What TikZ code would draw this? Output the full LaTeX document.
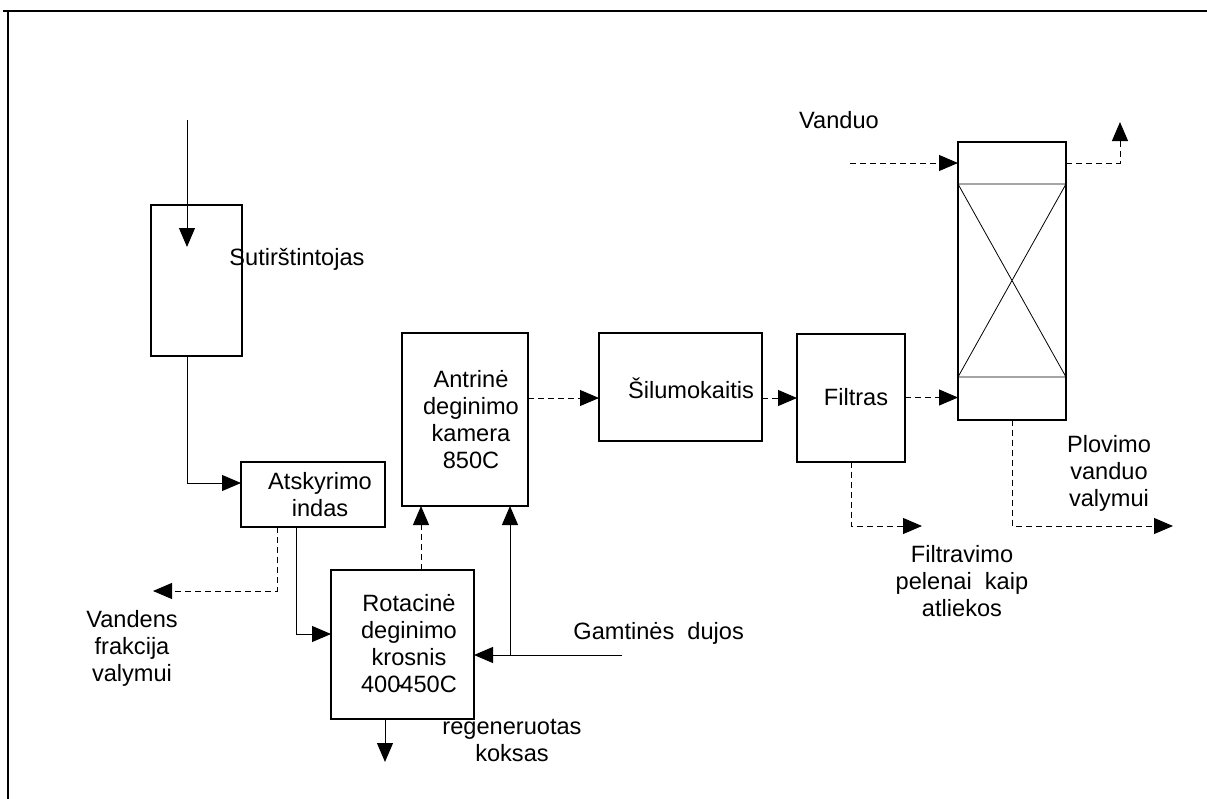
\documentclass[tikz,border=0pt]{standalone}
\usepackage{fontspec}
\setmainfont{Liberation Sans}
\usetikzlibrary{arrows.meta}
\begin{document}
\begin{tikzpicture}[x=0.5pt,y=-0.5pt,
  font=\fontsize{11.8}{13.5}\selectfont,
  box/.style={draw,line width=1pt,inner sep=0pt,outer sep=0pt},
  txt/.style={align=center,inner sep=0pt},
  flow/.style={line width=0.5pt,-{Triangle[length=9.5pt,width=8pt]}},
  gasflow/.style={flow,dash pattern=on 3pt off 2pt},
  thinline/.style={line width=0.4pt}]
\useasboundingbox (0,0) rectangle (1207,799);

% outer frame: top and left edges only, drawn as thin filled bars
\fill (3,9.5) rectangle (1207,11.5);
\fill (6.5,9.5) rectangle (8.5,799);

% process units
\node[box,minimum width=45.5pt,minimum height=75.5pt] (thk) at (196.5,280.5) {};
\node[box,minimum width=72pt,minimum height=32.5pt] (sep) at (313,494.5) {};
\node[box,minimum width=71.5pt,minimum height=74.5pt] (rot) at (402.5,644.5) {};
\node[box,minimum width=63pt,minimum height=86.5pt] (ant) at (465,419.5) {};
\node[box,minimum width=81.5pt,minimum height=54pt] (hx) at (680.5,387) {};
\node[box,minimum width=54pt,minimum height=64pt] (fil) at (851,398) {};
\node[box,minimum width=54pt,minimum height=139pt] (col) at (1012,281) {};

% packed section of the scrubber
\coordinate (colA) at (958,184);
\coordinate (colB) at (1066,184);
\coordinate (colC) at (1066,377);
\coordinate (colD) at (958,377);
\draw[thinline] (colA) -- (colB) (colD) -- (colC) (colA) -- (colC) (colB) -- (colD);

% unit labels
\node[txt,anchor=west] (thkT) at (229,259) {Sutirštintojas};
\node[txt] (sepT) at (320,495) {Atskyrimo\\indas};
\node[txt] (rotT) at (409,644) {Rotacinė\\deginimo\\krosnis\\400\makebox[0pt]{-}450C};
\node[txt] (antT) at (471,420) {Antrinė\\deginimo\\kamera\\850C};
\node[txt] (hxT) at (691,388) {Šilumokaitis};
\node[txt] (filT) at (856,397) {Filtras};

% stream labels
\node[txt] (vanT) at (839,120) {Vanduo};
\node[txt] (plovT) at (1109,473) {Plovimo\\vanduo\\valymui};
\node[txt] (peleT) at (962,581) {Filtravimo\\pelenai\ \ kaip\\atliekos};
\node[txt] (wfrT) at (132,648) {Vandens\\frakcija\\valymui};
\node[txt,anchor=west] (gasT) at (573,633) {Gamtinės\ \ dujos};
\node[txt] (cokeT) at (512,740) {regeneruotas\\koksas};

% free ends of streams
\coordinate (feed) at (187,120);
\coordinate (feedTip) at (187,247);
\coordinate (wout) at (153,591);
\coordinate (gas) at (622,655);
\coordinate (gj) at (510,655);
\coordinate (coke) at (385,762);
\coordinate (water) at (850,163);
\coordinate (vent) at (1120,122);
\coordinate (ash) at (922,526);
\coordinate (wash) at (1173,526);

% sludge line
\draw[flow] (feed) -- (feedTip);
\draw[flow] (thk.south -| feed) |- (sep.west |- 0,483);
\draw[gasflow] (sep.south -| 277,0) |- (wout);
\draw[flow] (sep.south -| 296,0) |- (rot.west |- 0,634);
\draw[flow] (rot.south -| coke) -- (coke);

% natural gas supply
\draw[flow] (gas) -- (rot.east |- gas);
\draw[flow] (gj) -- (ant.south -| gj);

% flue gas path
\draw[gasflow] (rot.north -| 421,0) -- (ant.south -| 421,0);
\draw[gasflow] (ant.east |- 0,398) -- (hx.west |- 0,398);
\draw[gasflow] (hx.east |- 0,398) -- (fil.west |- 0,398);
\draw[gasflow] (fil.east |- 0,397.5) -- (col.west |- 0,397.5);
\draw[gasflow] (water) -- (col.west |- water);
\draw[gasflow] (col.east |- water) -| (vent);
\draw[gasflow] (fil.south) |- (ash);
\draw[gasflow] (col.south) |- (wash);
\end{tikzpicture}
\end{document}
